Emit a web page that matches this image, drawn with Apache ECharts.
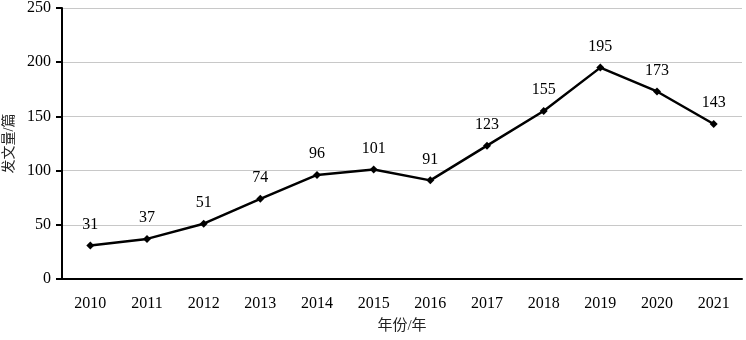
<!DOCTYPE html>
<html>
<head>
<meta charset="utf-8">
<script src="https://cdn.jsdelivr.net/npm/echarts@6/dist/echarts.min.js"></script>
<style>
  html, body { margin: 0; padding: 0; background: #fff; }
  #chart { width: 746px; height: 340px; }
</style>
</head>
<body>
<div id="chart"></div>
<script>
const years = ["2010", "2011", "2012", "2013", "2014", "2015", "2016", "2017", "2018", "2019", "2020", "2021"];
const counts = [31, 37, 51, 74, 96, 101, 91, 123, 155, 195, 173, 143];

const font = "'Liberation Serif', 'Times New Roman', 'Noto Sans CJK SC', serif";

const chart = echarts.init(document.getElementById("chart"));
chart.setOption({
  animation: false,
  textStyle: { fontFamily: font },
  grid: { left: 62, right: 4, top: 8, bottom: 61, containLabel: false, outerBoundsMode: "none" },
  xAxis: {
    type: "category",
    data: years,
    boundaryGap: true,
    name: "年份/年",
    nameLocation: "middle",
    nameGap: 40,
    nameTextStyle: { color: "#222", fontSize: 15, fontFamily: font },
    axisLine: { lineStyle: { color: "#000", width: 2 } },
    axisTick: { length: 6, lineStyle: { color: "#000", width: 2 } },
    axisLabel: { color: "#000", fontSize: 16, margin: 17, fontFamily: font }
  },
  yAxis: {
    type: "value",
    min: 0,
    max: 250,
    interval: 50,
    name: "发文量/篇",
    nameLocation: "middle",
    nameRotate: 90,
    nameGap: 45,
    nameTextStyle: { color: "#222", fontSize: 14, fontFamily: font },
    axisLine: { show: true, lineStyle: { color: "#000", width: 2 } },
    axisTick: { show: true, length: 6, lineStyle: { color: "#000", width: 2 } },
    axisLabel: { color: "#000", fontSize: 16, margin: 11, fontFamily: font },
    splitLine: { lineStyle: { color: "#c8c8c8", width: 1 } }
  },
  series: [{
    type: "line",
    data: counts,
    symbol: "diamond",
    symbolSize: 8,
    itemStyle: { color: "#000" },
    lineStyle: { color: "#000", width: 2.5 },
    label: {
      show: true,
      position: "top",
      distance: 9,
      color: "#000",
      fontSize: 16,
      fontFamily: font
    }
  }]
});
</script>
</body>
</html>
